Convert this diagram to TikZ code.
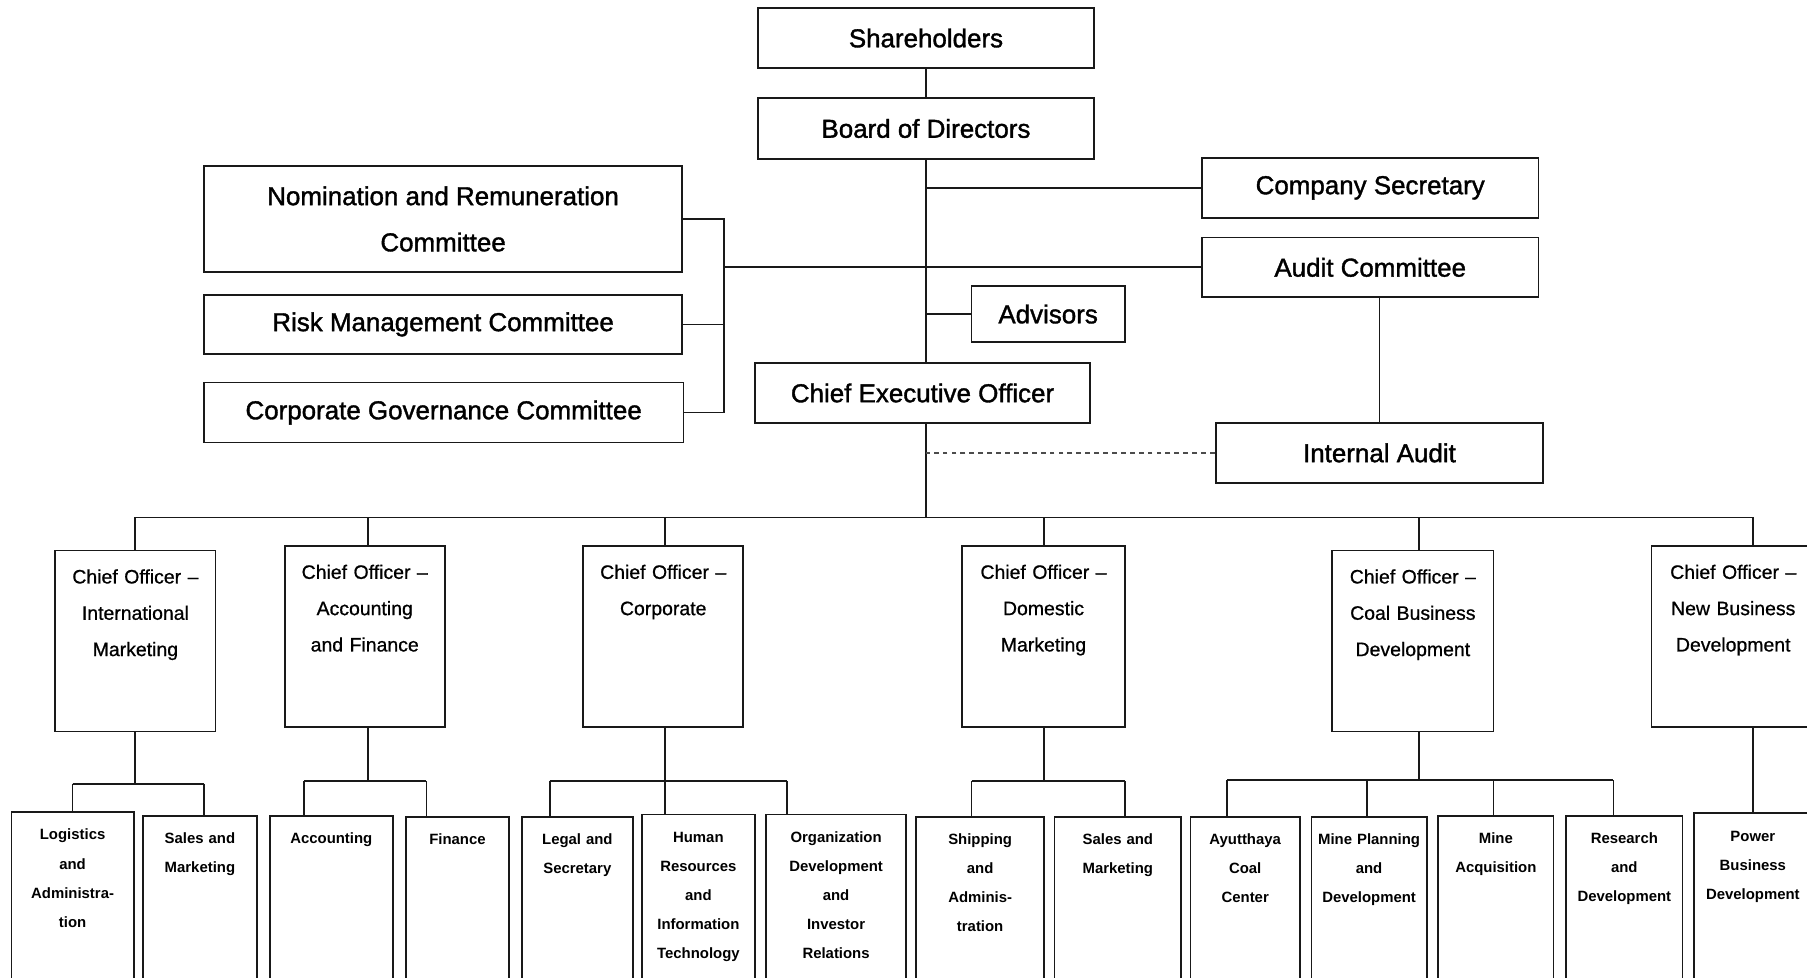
\documentclass[tikz,border=0pt]{standalone}
\usepackage{fontspec}
\setmainfont{Liberation Sans}
\newfontfamily\heavyfont[Ligatures=TeX,FakeBold=1.4]{Liberation Sans}
\newfontfamily\midfont[Ligatures=TeX,FakeBold=0.8]{Liberation Sans}
\tikzset{
  link/.style={draw=black!90, line width=1.1pt},
  dashlink/.style={draw=black!70, line width=1.1pt, dash pattern=on 3pt off 2.5pt},
  topbox/.style 2 args={draw=black!90, line width=1.1pt, inner sep=0pt, minimum width=#1, minimum height=#2, align=center, font=\heavyfont\fontsize{16}{28.5}\selectfont},
  cobox/.style={draw=black!90, line width=1.1pt, anchor=north, inner sep=0pt, text width=#1, align=center, text height=0.7125cm, text depth=3.2125cm, font=\midfont\fontsize{12}{22.4}\selectfont},
  subbox/.style={draw=black!90, line width=1.1pt, anchor=north, inner sep=0pt, text width=#1, align=center, text height=0.6cm, text depth=7cm, font=\bfseries\fontsize{9.2}{18}\selectfont}
}
\begin{document}
\begin{tikzpicture}[x=0.025cm,y=-0.025cm]
  \useasboundingbox (0,0) rectangle (1568,848);
  \clip (0,0) rectangle (1568,848);

  \node[topbox={7.275cm}{1.3cm}] (sh) at (803.5,33) {Shareholders};
  \node[topbox={7.275cm}{1.325cm}] (bod) at (803.5,111.5) {Board of Directors};
  \node[topbox={7.3cm}{1.3cm}] (cs) at (1189,163) {Company Secretary};
  \node[topbox={7.3cm}{1.3cm}] (ac) at (1189,232) {Audit Committee};
  \node[topbox={3.325cm}{1.225cm}] (adv) at (909.5,272.5) {Advisors};
  \node[topbox={7.275cm}{1.3cm}] (ceo) at (800.5,341) {Chief Executive Officer};
  \node[topbox={7.1cm}{1.3cm}] (ia) at (1197,393) {Internal Audit};
  \node[topbox={10.375cm}{2.3cm}] (nrc) at (384.5,190) {Nomination and Remuneration\\Committee};
  \node[topbox={10.375cm}{1.275cm}] (rmc) at (384.5,281.5) {Risk Management Committee};
  \node[topbox={10.4cm}{1.3cm}] (cgc) at (385,358) {Corporate Governance Committee};

  \coordinate (rail) at (628,232);
  \coordinate (bus) at (803.5,449);

  \draw[link] (sh.south) -- (bod.north);
  \draw[link] (bod.south) -- (bod.south |- ceo.north);
  \draw[link] (cs.west) -- (cs.west -| bod.south);
  \draw[link] (adv.west) -- (adv.west -| bod.south);
  \draw[link] (nrc.east) -- (nrc.east -| rail) -- (cgc.east -| rail) -- (cgc.east);
  \draw[link] (rmc.east) -- (rmc.east -| rail);
  \draw[link] (rail) -- (ac.west);
  \draw[link] (ac.south -| ia.north) -- (ia.north);
  \draw[link] (ceo.south -| bus) -- (bus);
  \draw[dashlink] (ia.west) -- (ia.west -| bus);

  \node[cobox=3.475cm] (coim) at (117.5,477) {Chief Officer --\\International\\Marketing};
  \node[cobox=3.475cm] (coaf) at (316.5,473) {Chief Officer --\\Accounting\\and Finance};
  \node[cobox=3.475cm] (coco) at (575.5,473) {Chief Officer --\\Corporate};
  \node[cobox=3.525cm] (codm) at (905.5,473) {Chief Officer --\\Domestic\\Marketing};
  \node[cobox=3.5cm] (cocb) at (1226,477) {Chief Officer --\\Coal Business\\Development};
  \node[cobox=3.55cm] (conb) at (1504,473) {Chief Officer --\\New Business\\Development};

  \draw[link] (bus -| 117,0) -- (bus -| 1521,0);
  \foreach \n/\x in {coim/117,coaf/319,coco/577,codm/906,cocb/1231,conb/1521}
    \draw[link] (\n.north -| \x,0) -- (bus -| \x,0);

  \foreach \n/\x/\y/\w/\s in {
    lg/63/704/2.65cm/{Logistics\\and\\Administra-\\tion},
    smi/173.5/707/2.475cm/{Sales and\\Marketing},
    acc/287.5/707/2.675cm/{Accounting},
    fin/397/708/2.25cm/{Finance},
    legal/501/708/2.4cm/{Legal and\\Secretary},
    hrit/606/706/2.45cm/{Human\\Resources\\and\\Information\\Technology},
    odir/725.5/706/3.025cm/{Organization\\Development\\and\\Investor\\Relations},
    ship/850.5/708/2.775cm/{Shipping\\and\\Adminis-\\tration},
    smd/970/708/2.75cm/{Sales and\\Marketing},
    ayu/1080.5/708/2.375cm/{Ayutthaya\\Coal\\Center},
    mpd/1188/708/2.5cm/{Mine Planning\\and\\Development},
    ma/1298/707/2.5cm/{Mine\\Acquisition},
    rd/1409.5/707/2.525cm/{Research\\and\\Development},
    pbd/1521/705/2.55cm/{Power\\Business\\Development}}
    \node[subbox=\w] (\n) at (\x,\y) {\s};

  \foreach \p/\x/\y/\a/\b in {coim/117/680/63/177,coaf/319/678/264/370,coco/577/678/477/683,codm/906/678/843/976,cocb/1231/677/1065/1400} {
    \draw[link] (\p.south -| \x,0) -- (\x,\y);
    \draw[link] (\a,\y) -- (\b,\y);
  }
  \foreach \n/\x/\y in {lg/63/680,smi/177/680,acc/264/678,fin/370/678,legal/477/678,hrit/577/678,odir/683/678,ship/843/678,smd/976/678,ayu/1065/677,mpd/1186/677,ma/1296/677,rd/1400/677}
    \draw[link] (\x,\y) -- (\n.north -| \x,0);
  \draw[link] (conb.south -| pbd.north) -- (pbd.north);
\end{tikzpicture}
\end{document}
